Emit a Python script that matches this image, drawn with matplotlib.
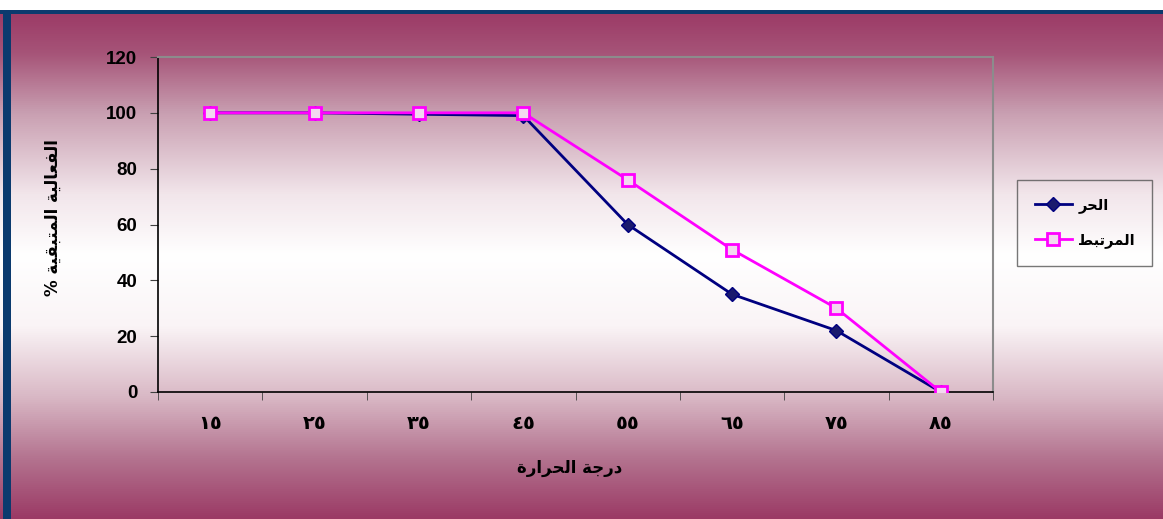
import numpy as np
import matplotlib
matplotlib.use("Agg")
import matplotlib.pyplot as plt
from matplotlib.colors import LinearSegmentedColormap
from matplotlib.patches import Rectangle
from matplotlib.ticker import FixedLocator

# temperature categories (Arabic-Indic digits) and remaining activity %
temps = ["\u0661\u0665", "\u0662\u0665", "\u0663\u0665", "\u0664\u0665",
         "\u0665\u0665", "\u0666\u0665", "\u0667\u0665", "\u0668\u0665"]
free_enzyme = [100, 100, 99.5, 99, 60, 35, 22, 0]
bound_enzyme = [100, 100, 100, 100, 76, 51, 30, 0]
yticks = [0, 20, 40, 60, 80, 100, 120]

# Arabic strings already shaped (presentation forms) in visual order
lbl_free = "\uFEAE\uFEA4\uFEDF\uFE8D"                       # الحر
lbl_bound = "\uFEC2\uFE92\uFE97\uFEAE\uFEE4\uFEDF\uFE8D"    # المرتبط
xlabel = ("\uFE93\uFEAD\uFE8D\uFEAE\uFEA4\uFEDF\uFE8D "
          "\uFE94\uFE9F\uFEAD\uFEA9")                       # درجة الحرارة
ylabel = ("% \uFE94\uFEF4\uFED8\uFE92\uFE98\uFEE4\uFEDF\uFE8D "
          "\uFE94\uFEF4\uFEDF\uFE8E\uFECC\uFED4\uFEDF\uFE8D")  # الفعالية المتبقية %

W, H = 1163, 519
fig = plt.figure(figsize=(W / 100, H / 100), dpi=100)
fig.patch.set_facecolor("white")

# background: maroon -> white -> maroon vertical gradient
bg = fig.add_axes([0, 0, 1, (H - 12) / H], zorder=-10)
bg.axis("off")
cmap = LinearSegmentedColormap.from_list("bg", [
    (0.00, "#9c3a66"), (0.08, "#a65478"), (0.20, "#c9a0b2"),
    (0.36, "#f2e6eb"), (0.48, "#ffffff"), (0.62, "#faf4f6"),
    (0.76, "#d9b8c5"), (0.88, "#b47490"), (1.00, "#9b3a65")])
grad = np.linspace(0, 1, 512).reshape(-1, 1)
bg.imshow(grad, aspect="auto", cmap=cmap, extent=[0, 1, 0, 1], origin="upper")
bg.set_xlim(0, 1)
bg.set_ylim(0, 1)

# navy frame along the top and left edge
fig.patches.append(Rectangle((0, (H - 14) / H), 1, 4 / H, transform=fig.transFigure,
                             facecolor="#0b3a6e", edgecolor="none", zorder=5))
fig.patches.append(Rectangle((3 / W, 0), 8 / W, (H - 10) / H, transform=fig.transFigure,
                             facecolor="#0b3a6e", edgecolor="none", zorder=5))

ax = fig.add_axes([158 / W, 127 / H, 835 / W, 335 / H])
ax.patch.set_alpha(0)

x = np.arange(len(temps))
ax.plot(x, free_enzyme, color="#000080", lw=2, marker="D", ms=7,
        mfc="#1a1a6e", mec="#000080", label=lbl_free, zorder=3)
ax.plot(x, bound_enzyme, color="#ff00ff", lw=2, marker="s", ms=9,
        mfc="#f3d8f0", mec="#ff00ff", mew=2, label=lbl_bound, zorder=4)

ax.set_xlim(-0.5, len(temps) - 0.5)
ax.set_ylim(0, 120)
ax.set_yticks(yticks)
ax.set_yticklabels([str(v) for v in yticks], fontsize=13.5, fontweight="bold",
                   family="Liberation Sans")
ax.set_xticks(x)
ax.set_xticklabels(temps, fontsize=14, fontweight="bold", family="DejaVu Sans")
ax.xaxis.set_minor_locator(FixedLocator(np.arange(-0.5, len(temps), 1.0)))
ax.tick_params(axis="x", which="major", length=0, pad=16)
ax.tick_params(axis="x", which="minor", length=6, color="#404040")
ax.tick_params(axis="y", length=6, pad=9, color="#404040")

for side in ("top", "right"):
    ax.spines[side].set_color("#8c8c8c")
    ax.spines[side].set_linewidth(1.5)
for side in ("left", "bottom"):
    ax.spines[side].set_color("black")
    ax.spines[side].set_linewidth(1.2)

fig.text(570 / W, 1 - 468 / H, xlabel, ha="center", va="center",
         fontsize=12, fontweight="bold", family="DejaVu Sans")
fig.text(53 / W, 1 - 218 / H, ylabel, ha="center", va="center", rotation=90,
         fontsize=12, fontweight="bold", family="DejaVu Sans")

leg = ax.legend(loc="upper left", bbox_to_anchor=(1017 / W, 1 - 180 / H),
                bbox_transform=fig.transFigure, frameon=True, fancybox=False,
                prop={"family": "DejaVu Sans", "weight": "bold", "size": 10.5},
                handlelength=2.6, handletextpad=0.4, borderpad=1.2,
                labelspacing=1.3, borderaxespad=0)
leg.get_frame().set_facecolor("none")
leg.get_frame().set_edgecolor("#555555")
leg.get_frame().set_linewidth(1.0)

fig.savefig("out.png", dpi=100)
